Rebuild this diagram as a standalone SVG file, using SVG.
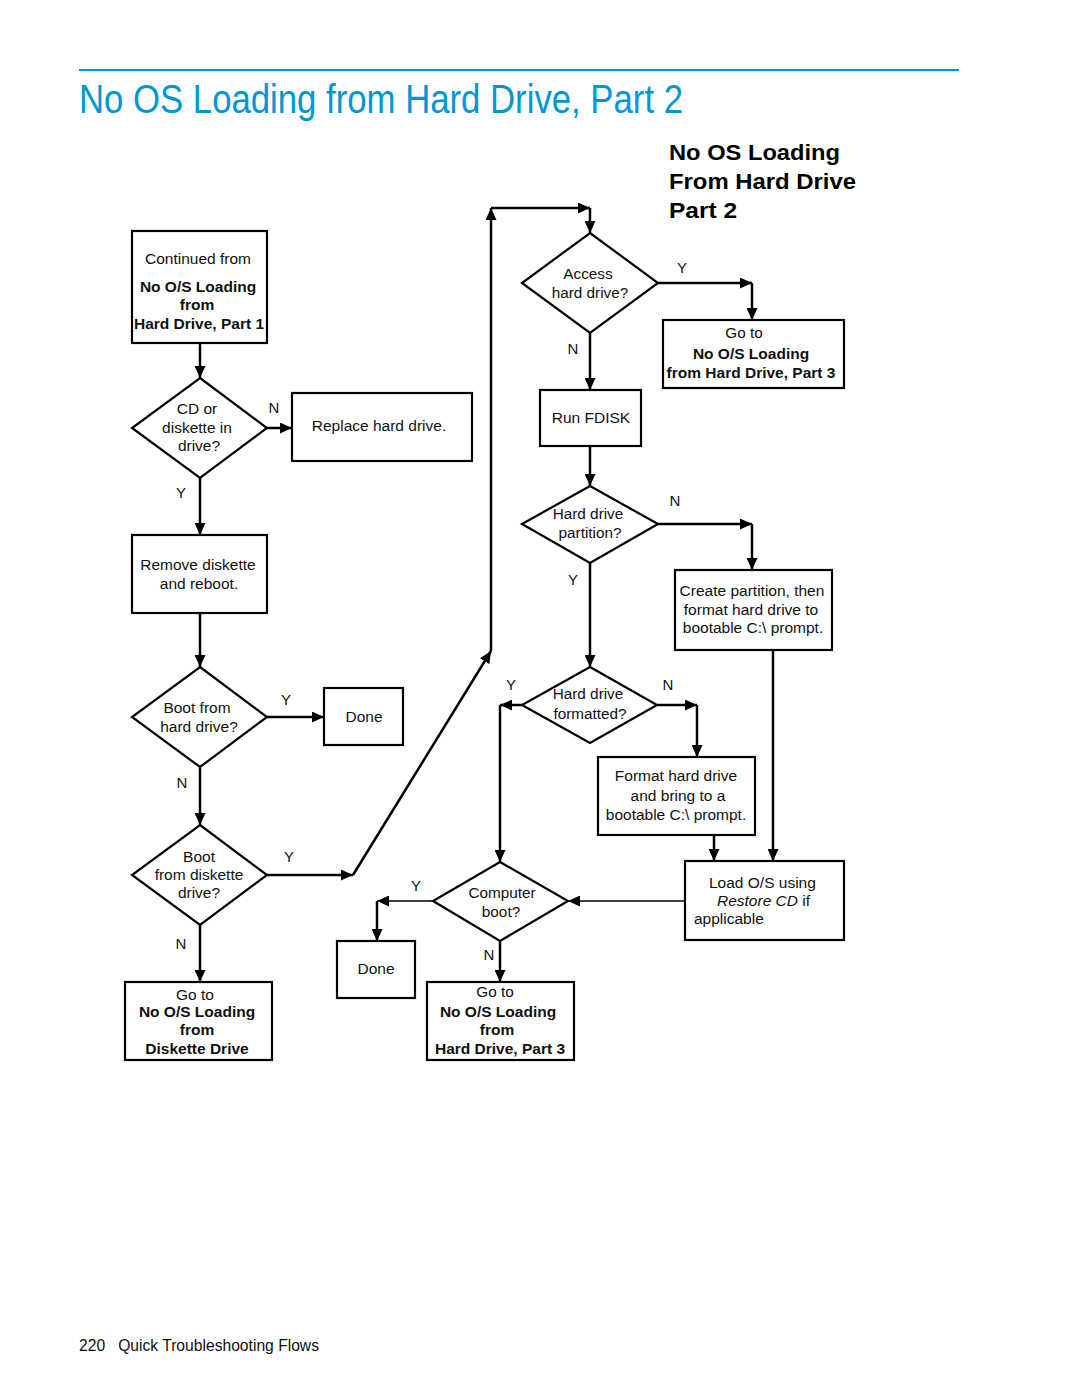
<svg xmlns="http://www.w3.org/2000/svg" width="1080" height="1397" viewBox="0 0 1080 1397">
<defs>
<marker id="ah" markerUnits="userSpaceOnUse" markerWidth="13" markerHeight="11" refX="12" refY="5.5" orient="auto"><path d="M0,0 L12,5.5 L0,11 z" fill="#000"/></marker>
<style>
.bx{fill:#fff;stroke:#000;stroke-width:2.2}
.t{font-family:"Liberation Sans",Arial,sans-serif;font-size:15.5px;fill:#111;text-anchor:middle}
.b{font-weight:bold}
.s{font-size:15.3px}
.lb{font-family:"Liberation Sans",Arial,sans-serif;font-size:15px;fill:#111;text-anchor:middle}
.c{fill:none;stroke:#000;stroke-width:2.5;marker-end:url(#ah)}
.thin{fill:none;stroke:#000;stroke-width:1.5;marker-end:url(#ah)}
</style>
</defs>
<rect width="1080" height="1397" fill="#fff"/>
<line x1="79" y1="70" x2="959" y2="70" stroke="#0096d6" stroke-width="2"/>
<text x="79" y="113" font-family="Liberation Sans,Arial,sans-serif" font-size="40" fill="#0096d6" textLength="604" lengthAdjust="spacingAndGlyphs">No OS Loading from Hard Drive, Part 2</text>
<g font-family="Liberation Sans,Arial,sans-serif" font-size="22" font-weight="bold" fill="#000">
<text x="669" y="160" textLength="171" lengthAdjust="spacingAndGlyphs">No OS Loading</text>
<text x="669" y="189" textLength="187" lengthAdjust="spacingAndGlyphs">From Hard Drive</text>
<text x="669" y="218" textLength="68" lengthAdjust="spacingAndGlyphs">Part 2</text>
</g>
<text x="79" y="1351" font-family="Liberation Sans,Arial,sans-serif" font-size="16" fill="#111" textLength="240" lengthAdjust="spacingAndGlyphs" xml:space="preserve">220   Quick Troubleshooting Flows</text>

<g id="connectors">
<path class="c" d="M200,343 L200,378"/>
<path class="c" d="M267,428 L292,428"/>
<path class="c" d="M200,478 L200,535"/>
<path class="c" d="M200,613 L200,667"/>
<path class="c" d="M267,717 L324,717"/>
<path class="c" d="M200,767 L200,825"/>
<path class="c" d="M267,875 L353,875"/>
<path class="c" d="M353,875 L491,651"/>
<path class="c" d="M491,651 L491,208"/>
<path class="c" d="M491,208 L590,208"/>
<path class="c" d="M590,208 L590,233"/>
<path class="c" d="M200,925 L200,982"/>
<path class="c" d="M658,283 L752,283"/>
<path class="c" d="M752,283 L752,320"/>
<path class="c" d="M590,333 L590,390"/>
<path class="c" d="M590,446 L590,486"/>
<path class="c" d="M658,524 L752,524"/>
<path class="c" d="M752,524 L752,570"/>
<path class="c" d="M590,563 L590,667"/>
<path class="c" d="M522,705 L500,705"/>
<path class="c" d="M500,705 L500,862"/>
<path class="c" d="M657,705 L697,705"/>
<path class="c" d="M697,705 L697,757"/>
<path class="c" d="M714,835 L714,861"/>
<path class="c" d="M773,650 L773,861"/>
<path class="thin" d="M685,901 L568,901"/>
<path class="thin" d="M433,901 L377,901"/>
<path class="c" d="M377,901 L377,941"/>
<path class="c" d="M500,941 L500,982"/>
<g class="lb">
<text x="274" y="413">N</text>
<text x="181" y="498">Y</text>
<text x="286" y="705">Y</text>
<text x="182" y="788">N</text>
<text x="289" y="862">Y</text>
<text x="181" y="949">N</text>
<text x="682" y="273">Y</text>
<text x="573" y="354">N</text>
<text x="675" y="506">N</text>
<text x="573" y="585">Y</text>
<text x="511" y="690">Y</text>
<text x="668" y="690">N</text>
<text x="416" y="891">Y</text>
<text x="489" y="960">N</text>
</g>
</g>

<g id="n-continued">
<rect class="bx" x="132" y="231" width="135" height="112"/>
<text class="t" x="198" y="264">Continued from</text>
<text class="t b" x="198" y="292">No O/S Loading</text>
<text class="t b" x="197" y="310">from</text>
<text class="t b" x="199" y="329">Hard Drive, Part 1</text>
</g>
<g id="n-cd">
<polygon class="bx" points="200,378 267,428 200,478 132,428"/>
<text class="t" x="197" y="414">CD or</text>
<text class="t" x="197" y="433">diskette in</text>
<text class="t" x="199" y="451">drive?</text>
</g>
<g id="n-replace">
<rect class="bx" x="292" y="393" width="180" height="68"/>
<text class="t" x="379" y="431">Replace hard drive.</text>
</g>
<g id="n-remove">
<rect class="bx" x="132" y="535" width="135" height="78"/>
<text class="t" x="198" y="570">Remove diskette</text>
<text class="t" x="199" y="589">and reboot.</text>
</g>
<g id="n-boothd">
<polygon class="bx" points="200,667 267,717 200,767 132,717"/>
<text class="t" x="197" y="713">Boot from</text>
<text class="t" x="199" y="732">hard drive?</text>
</g>
<g id="n-done1">
<rect class="bx" x="324" y="688" width="79" height="57"/>
<text class="t" x="364" y="722">Done</text>
</g>
<g id="n-bootfd">
<polygon class="bx" points="200,825 267,875 200,925 132,875"/>
<text class="t" x="199" y="862">Boot</text>
<text class="t" x="199" y="880">from diskette</text>
<text class="t" x="199" y="898">drive?</text>
</g>
<g id="n-gotofd">
<rect class="bx" x="125" y="982" width="147" height="78"/>
<text class="t" x="195" y="1000">Go to</text>
<text class="t b" x="197" y="1017">No O/S Loading</text>
<text class="t b" x="197" y="1035">from</text>
<text class="t b" x="197" y="1054">Diskette Drive</text>
</g>
<g id="n-access">
<polygon class="bx" points="590,233 658,283 590,333 522,283"/>
<text class="t s" x="588" y="279">Access</text>
<text class="t s" x="590" y="298">hard drive?</text>
</g>
<g id="n-goto3a">
<rect class="bx" x="663" y="320" width="181" height="68"/>
<text class="t s" x="744" y="338">Go to</text>
<text class="t b" x="751" y="359">No O/S Loading</text>
<text class="t b" x="751" y="378">from Hard Drive, Part 3</text>
</g>
<g id="n-fdisk">
<rect class="bx" x="540" y="390" width="101" height="56"/>
<text class="t" x="591" y="423">Run FDISK</text>
</g>
<g id="n-partition">
<polygon class="bx" points="590,486 658,524 590,563 522,524"/>
<text class="t s" x="588" y="519">Hard drive</text>
<text class="t s" x="590" y="538">partition?</text>
</g>
<g id="n-create">
<rect class="bx" x="675" y="570" width="157" height="80"/>
<text class="t" x="752" y="596">Create partition, then</text>
<text class="t" x="751" y="615">format hard drive to</text>
<text class="t" x="753" y="633">bootable C:\ prompt.</text>
</g>
<g id="n-formatted">
<polygon class="bx" points="590,667 657,705 590,743 522,705"/>
<text class="t s" x="588" y="699">Hard drive</text>
<text class="t s" x="590" y="719">formatted?</text>
</g>
<g id="n-format">
<rect class="bx" x="598" y="757" width="157" height="78"/>
<text class="t" x="676" y="781">Format hard drive</text>
<text class="t" x="678" y="801">and bring to a</text>
<text class="t" x="676" y="820">bootable C:\ prompt.</text>
</g>
<g id="n-load">
<rect class="bx" x="685" y="861" width="159" height="79"/>
<text class="t" x="709" y="888" style="text-anchor:start">Load O/S using</text>
<text class="t" x="717" y="906" style="text-anchor:start"><tspan font-style="italic">Restore CD</tspan> if</text>
<text class="t" x="694" y="924" style="text-anchor:start">applicable</text>
</g>
<g id="n-compboot">
<polygon class="bx" points="500,862 568,901 500,941 433,901"/>
<text class="t s" x="502" y="898">Computer</text>
<text class="t s" x="501" y="917">boot?</text>
</g>
<g id="n-done2">
<rect class="bx" x="337" y="941" width="78" height="57"/>
<text class="t" x="376" y="974">Done</text>
</g>
<g id="n-goto3b">
<rect class="bx" x="427" y="982" width="147" height="78"/>
<text class="t s" x="495" y="997">Go to</text>
<text class="t b" x="498" y="1017">No O/S Loading</text>
<text class="t b" x="497" y="1035">from</text>
<text class="t b" x="500" y="1054">Hard Drive, Part 3</text>
</g>
</svg>
